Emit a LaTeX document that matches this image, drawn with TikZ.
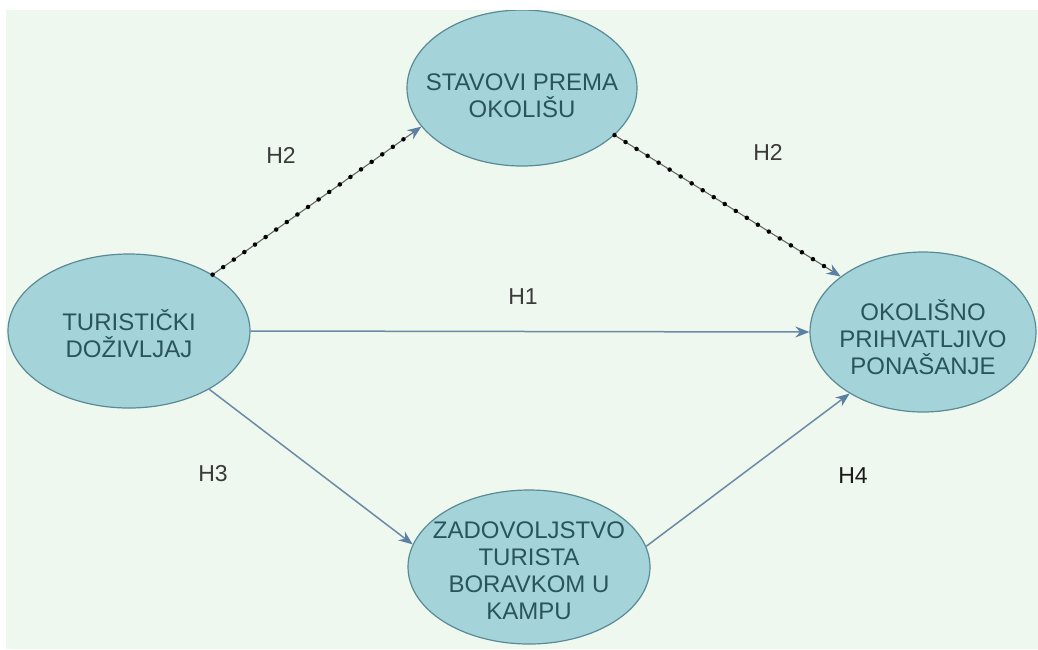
\documentclass[tikz,border=0pt]{standalone}
\usepackage{fontspec}
\setmainfont{Liberation Sans}
\usetikzlibrary{arrows.meta,shapes.geometric}
\definecolor{bgmint}{HTML}{EFF8EE}
\definecolor{ellfill}{HTML}{A4D4D9}
\definecolor{elldraw}{HTML}{5A8A94}
\definecolor{elltext}{HTML}{2A545D}
\definecolor{arrowblue}{HTML}{5B80A6}
\definecolor{lineblue}{HTML}{6A8AA6}
\definecolor{labelgray}{HTML}{3A3A3A}
\tikzset{
  ell/.style={ellipse, draw=elldraw, fill=ellfill, line width=1.2pt, inner sep=0pt},
  elltxt/.style={text=elltext, align=center, font=\fontsize{24}{27}\selectfont},
  hlabel/.style={text=labelgray, font=\fontsize{23}{25}\selectfont},
  solidarrow/.style={draw=lineblue, line width=1.5pt, -{Stealth[length=14pt,width=11pt,color=arrowblue]}},
  dotarrow/.style={draw=black!60, line width=1.1pt, -{Stealth[length=14pt,width=11pt,color=arrowblue]},
    postaction={draw=black, line width=4.5pt, line cap=round, dash pattern=on 0pt off 13pt, -, shorten >=12pt}}
}
\begin{document}
\begin{tikzpicture}[x=1pt,y=-1pt]
\useasboundingbox (0,0) rectangle (1038,649);
\fill[bgmint] (6,10) rectangle (1038,649);
\begin{scope}
\clip (6,10) rectangle (1038,649);
\node[ell, minimum width=230pt, minimum height=156pt] (top) at (522,88) {};
\end{scope}
\node[elltxt] (toptxt) at (522,96) {STAVOVI PREMA\\OKOLIŠU};
\node[ell, minimum width=242pt, minimum height=154pt] (left) at (129,331) {};
\node[elltxt] (lefttxt) at (129,334) {TURISTIČKI\\DOŽIVLJAJ};
\node[ell, minimum width=226pt, minimum height=160pt] (right) at (923,332) {};
\node[elltxt] (righttxt) at (923,337) {OKOLIŠNO\\PRIHVATLJIVO\\PONAŠANJE};
\node[ell, minimum width=242pt, minimum height=154pt] (bot) at (529,567) {};
\node[elltxt] (bottxt) at (529,571) {ZADOVOLJSTVO\\TURISTA\\BORAVKOM U\\KAMPU};

\draw[dotarrow] (left.34.5) -- (top.201.6);
\draw[dotarrow] (top.-27) -- (right.146.6);
\draw[solidarrow] (left.east) -- (right.west);
\draw[solidarrow] (left.-36.7) -- (bot.169);
\draw[solidarrow] (bot.10) -- (right.220.7);

\node[hlabel] (h2a) at (281,155) {H2};
\node[hlabel] (h2b) at (768,152) {H2};
\node[hlabel] (h1) at (523,297) {H1};
\node[hlabel] (h3) at (213,474) {H3};
\node[hlabel, text=black!90] (h4) at (853,476) {H4};
\end{tikzpicture}
\end{document}
